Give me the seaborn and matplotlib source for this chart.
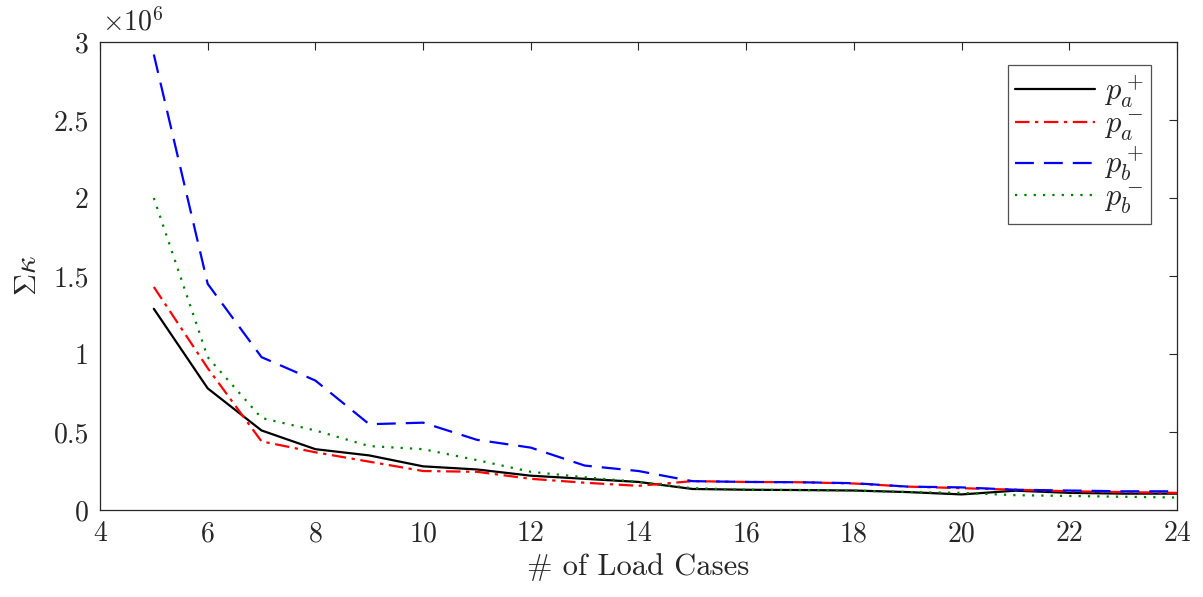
import matplotlib
matplotlib.use('Agg')
import matplotlib.pyplot as plt
import seaborn as sns
import pandas as pd
from matplotlib.ticker import FuncFormatter

load_cases = list(range(5, 25))

# values in units of 1e6
pa_plus = [1.29, 0.78, 0.51, 0.39, 0.35, 0.28, 0.26, 0.22, 0.20, 0.18,
           0.135, 0.13, 0.128, 0.125, 0.115, 0.10, 0.124, 0.11, 0.105, 0.105]
pa_minus = [1.43, 0.91, 0.44, 0.37, 0.31, 0.25, 0.245, 0.20, 0.175, 0.155,
            0.185, 0.18, 0.178, 0.17, 0.15, 0.14, 0.13, 0.12, 0.115, 0.11]
pb_plus = [2.92, 1.45, 0.98, 0.83, 0.55, 0.56, 0.45, 0.40, 0.285, 0.25,
           0.185, 0.18, 0.178, 0.172, 0.15, 0.145, 0.13, 0.125, 0.12, 0.12]
pb_minus = [2.00, 0.98, 0.59, 0.51, 0.41, 0.39, 0.32, 0.245, 0.21, 0.18,
            0.14, 0.13, 0.128, 0.125, 0.115, 0.11, 0.095, 0.09, 0.085, 0.08]

series = [
    (r'$p_a^+$', pa_plus, 'black', '-'),
    (r'$p_a^-$', pa_minus, 'red', (0, (6.5, 2.5, 1.5, 2.5))),
    (r'$p_b^+$', pb_plus, 'blue', (0, (8.5, 4.5))),
    (r'$p_b^-$', pb_minus, 'green', (0, (1, 3.2))),
]

sns.set_style('white')
plt.rcParams['font.family'] = 'serif'
plt.rcParams['font.serif'] = ['cmr10', 'DejaVu Serif']
plt.rcParams['mathtext.fontset'] = 'cm'
plt.rcParams['axes.unicode_minus'] = False

fig = plt.figure(figsize=(12.03, 5.97), dpi=100)
ax = fig.add_axes([0.0831, 0.1457, 0.8953, 0.7839])

for label, vals, color, ls in series:
    df = pd.DataFrame({'x': load_cases, 'y': vals})
    sns.lineplot(data=df, x='x', y='y', ax=ax, color=color, linestyle=ls,
                 linewidth=1.6, label=label)

ax.set_xlim(4, 24)
ax.set_ylim(0, 3)
ax.set_xticks(range(4, 25, 2))
ax.set_yticks([0, 0.5, 1, 1.5, 2, 2.5, 3])
ax.yaxis.set_major_formatter(FuncFormatter(lambda v, p: '%g' % v))
ax.text(0.002, 1.012, r'$\times10^{6}$', transform=ax.transAxes,
        fontsize=20, color='#262626', ha='left', va='bottom')

ax.tick_params(direction='in', length=6, width=0.8, colors='#262626',
               labelsize=20, top=True, right=True, labelcolor='#262626',
               pad=8)
for sp in ax.spines.values():
    sp.set_color('#262626')
    sp.set_linewidth(0.9)

ax.set_xlabel('# of Load Cases', fontsize=22, color='#262626', labelpad=4)
ax.set_ylabel(r'$\Sigma\kappa$', fontsize=22, color='#262626', labelpad=8)

leg = ax.legend(loc='upper right', bbox_to_anchor=(0.976, 0.95), fontsize=22,
                frameon=True, fancybox=False, edgecolor='#262626',
                handlelength=2.6, handletextpad=0.3, borderpad=0.25,
                labelspacing=0.05, borderaxespad=0.0)
leg.get_frame().set_linewidth(0.9)

fig.savefig('out.png', dpi=100)
